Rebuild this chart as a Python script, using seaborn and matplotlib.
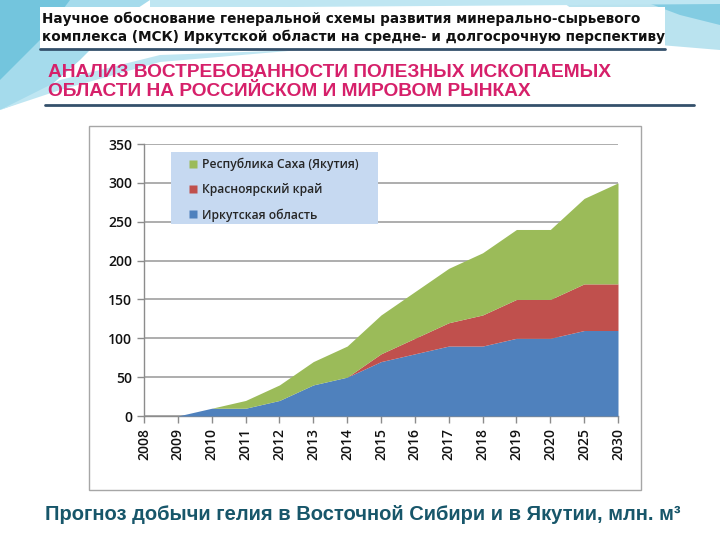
import matplotlib
matplotlib.use("Agg")
import matplotlib.pyplot as plt
import seaborn as sns
import numpy as np
import pandas as pd
from matplotlib.patches import Rectangle, Polygon
from matplotlib.lines import Line2D

years = ["2008", "2009", "2010", "2011", "2012", "2013", "2014", "2015",
         "2016", "2017", "2018", "2019", "2020", "2025", "2030"]
irkutsk = [0, 0, 10, 10, 20, 40, 50, 70, 80, 90, 90, 100, 100, 110, 110]
krasnoyarsk = [0, 0, 0, 0, 0, 0, 0, 10, 20, 30, 40, 50, 50, 60, 60]
sakha = [0, 0, 0, 10, 20, 30, 40, 50, 60, 70, 80, 90, 90, 110, 130]
series_names = ["Иркутская область", "Красноярский край", "Республика Саха (Якутия)"]
colors = ["#4f81bd", "#c0504d", "#9bbb59"]
yticks = [0, 50, 100, 150, 200, 250, 300, 350]

header = ("Научное обоснование генеральной схемы развития минерально-сырьевого\n"
          "комплекса (МСК) Иркутской области на средне- и долгосрочную перспективу")
title = "АНАЛИЗ ВОСТРЕБОВАННОСТИ ПОЛЕЗНЫХ ИСКОПАЕМЫХ\nОБЛАСТИ НА РОССИЙСКОМ И МИРОВОМ РЫНКАХ"
caption = "Прогноз добычи гелия в Восточной Сибири и в Якутии, млн. м³"

df = pd.DataFrame({"year": years, series_names[0]: irkutsk,
                   series_names[1]: krasnoyarsk, series_names[2]: sakha})

sns.set_theme(style="white")
plt.rcParams["font.family"] = ["Liberation Sans", "DejaVu Sans"]

W, H = 720, 540
fig = plt.figure(figsize=(7.2, 5.4), dpi=100)
fig.patch.set_facecolor("white")

def fx(px):
    return px / W

def fy(py):
    return 1 - py / H

# decorative swooshes
bg = fig.add_axes([0, 0, 1, 1], zorder=0)
bg.set_xlim(0, W); bg.set_ylim(H, 0); bg.axis("off")
bg.add_patch(Polygon([(0, 0), (150, 0), (120, 20), (80, 60), (40, 95), (0, 110)],
                     closed=True, facecolor="#8fd3e8", edgecolor="none", alpha=0.8))
bg.add_patch(Polygon([(0, 0), (70, 0), (40, 40), (0, 80)],
                     closed=True, facecolor="#5fbcd8", edgecolor="none", alpha=0.7))
bg.add_patch(Polygon([(0, 110), (60, 80), (160, 55), (300, 50), (160, 62), (60, 90)],
                     closed=True, facecolor="#bfe6f2", edgecolor="none"))
bg.add_patch(Polygon([(560, 0), (720, 0), (720, 50), (660, 45), (600, 30)],
                     closed=True, facecolor="#a9dcec", edgecolor="none", alpha=0.8))
bg.add_patch(Polygon([(640, 0), (720, 0), (720, 25), (680, 15)],
                     closed=True, facecolor="#6cc3dd", edgecolor="none", alpha=0.7))
bg.add_patch(Polygon([(150, 0), (720, 0), (720, 4), (150, 8)],
                     closed=True, facecolor="#bfe6f2", edgecolor="none"))
# header box
bg.add_patch(Rectangle((40, 7), 625, 42, facecolor="white", edgecolor="none"))
bg.plot([40, 665], [49, 49], color="#34506b", lw=2)
bg.plot([45, 694], [105, 105], color="#34506b", lw=2)
# chart frame
bg.add_patch(Rectangle((89, 126), 552, 364, facecolor="white", edgecolor="#a6a6a6", lw=1))

fig.text(fx(42), fy(28), header, ha="left", va="center", fontsize=9.8,
         fontweight="bold", color="#111111", linespacing=1.35,
         family=["DejaVu Sans"])
fig.text(fx(48), fy(82), title, ha="left", va="center", fontsize=13.8,
         fontweight="bold", color="#d6206a", linespacing=1.22,
         family=["Liberation Sans", "DejaVu Sans"])
fig.text(fx(45), fy(514), caption, ha="left", va="center", fontsize=14.5,
         fontweight="bold", color="#17566a")

# main chart
ax = fig.add_axes([fx(144), fy(416), fx(618) - fx(144), (416 - 144) / H], zorder=2)
ax.set_facecolor("none")
x = np.arange(len(df))
ax.stackplot(x, df[series_names[0]], df[series_names[1]], df[series_names[2]],
             colors=colors, linewidth=0, zorder=3)
ax.set_xlim(0, len(df) - 1)
ax.set_ylim(0, 350)
ax.set_yticks(yticks)
ax.set_yticklabels([str(v) for v in yticks])
ax.set_xticks(x)
ax.set_xticklabels(df["year"], rotation=90)
ax.yaxis.grid(True, color="#a0a0a0", lw=1.2)
ax.set_axisbelow(True)
for s in ["top", "right"]:
    ax.spines[s].set_visible(False)
for s in ["left", "bottom"]:
    ax.spines[s].set_color("#8c8c8c")
    ax.spines[s].set_linewidth(1)
ax.tick_params(axis="both", which="both", length=5, width=1, color="#8c8c8c",
               labelsize=10, labelcolor="#111111", direction="out", left=True, bottom=True)
for lab in ax.get_xticklabels() + ax.get_yticklabels():
    lab.set_family(["Open Sans", "DejaVu Sans"])
    lab.set_fontweight("semibold")

# legend background box (pixel coords 171..378, 152..224)
ax.add_patch(Rectangle((fx(171), fy(224)), fx(378) - fx(171), (224 - 152) / H,
                       transform=fig.transFigure, facecolor="#c6d9f1",
                       edgecolor="none", zorder=4, clip_on=False))

handles = [Line2D([], [], linestyle="none", marker="s", markersize=5.2,
                  markerfacecolor=colors[i], markeredgecolor="none") for i in [2, 1, 0]]
labels = [series_names[i] for i in [2, 1, 0]]
leg = ax.legend(handles, labels, loc="upper left",
                bbox_to_anchor=((186 - 144) / 474, (416 - 154) / 272),
                frameon=False, fontsize=8.7, handlelength=0.6, handleheight=0.6,
                handletextpad=0.45, borderpad=0.3, labelspacing=1.0, borderaxespad=0)
for t in leg.get_texts():
    t.set_family(["Open Sans", "DejaVu Sans"])
    t.set_fontweight("semibold")
leg.set_zorder(5)

fig.savefig("out.png", dpi=100, facecolor=fig.get_facecolor())
